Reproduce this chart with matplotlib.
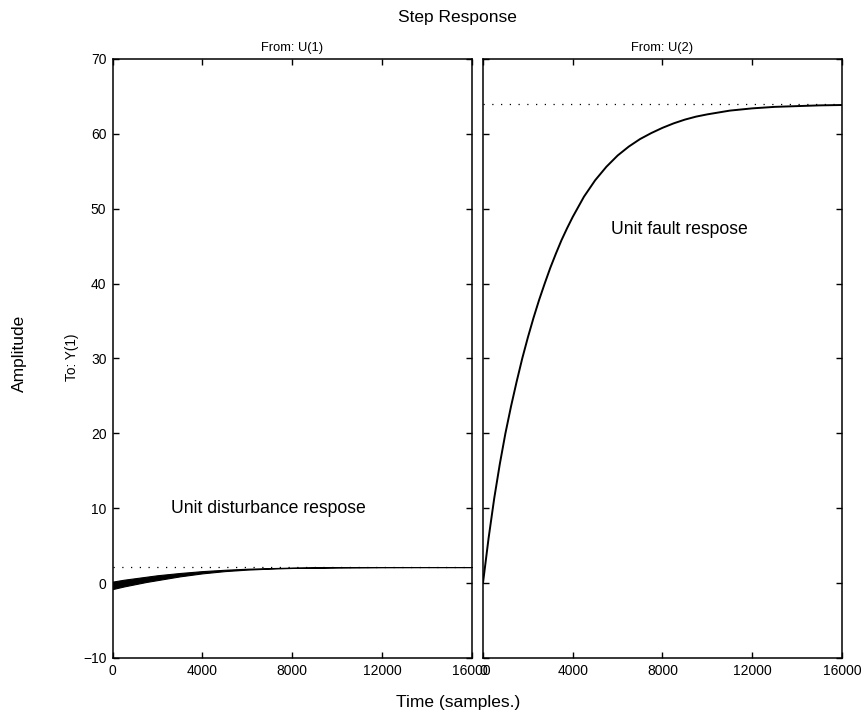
import matplotlib
matplotlib.use('Agg')
import matplotlib.pyplot as plt

plt.rcParams['font.family'] = ['Liberation Sans', 'DejaVu Sans']

# From: U(1)  -> disturbance response (thick oscillating band at the start)
t_dist = [0, 500, 1000, 1500, 2000, 2500, 3000, 4000, 5000, 6000, 7000, 8000, 10000, 12000, 14000, 16000]
dist_lower = [-0.8, -0.45, -0.15, 0.15, 0.4, 0.65, 0.9, 1.3, 1.6, 1.8, 1.93, 2.02, 2.1, 2.13, 2.14, 2.14]
dist_upper = [0.2, 0.45, 0.65, 0.85, 1.05, 1.2, 1.35, 1.6, 1.78, 1.92, 2.0, 2.07, 2.12, 2.14, 2.14, 2.14]
dist_final = 2.15

# From: U(2)  -> fault response
t_fault = [0, 250, 500, 750, 1000, 1250, 1500, 1750, 2000, 2250, 2500, 2750, 3000, 3250,
           3500, 3750, 4000, 4500, 5000, 5500, 6000, 6500, 7000, 7500, 8000, 8500, 9000,
           9500, 10000, 11000, 12000, 13000, 14000, 15000, 16000]
fault_resp = [0, 6.0, 11.3, 15.9, 20.0, 23.6, 26.9, 30.0, 32.8, 35.4, 37.8, 40.0, 42.1, 44.0,
              45.8, 47.4, 48.9, 51.6, 53.8, 55.6, 57.1, 58.3, 59.3, 60.1, 60.8, 61.4, 61.9,
              62.3, 62.6, 63.1, 63.4, 63.6, 63.7, 63.8, 63.85]
fault_final = 64.0

xticks = [0, 4000, 8000, 12000, 16000]
yticks = [-10, 0, 10, 20, 30, 40, 50, 60, 70]

fig = plt.figure(figsize=(8.64, 7.18), dpi=100)
ax1 = fig.add_axes([0.1304, 0.0836, 0.4155, 0.8343])
ax2 = fig.add_axes([0.5590, 0.0836, 0.4155, 0.8343])

dots = (0, (1, 6))

ax1.fill_between(t_dist, dist_lower, dist_upper, color='k', lw=0.8)
ax1.plot([0, 16000], [dist_final, dist_final], color='k', lw=0.9, linestyle=dots)
ax1.text(2600, 10, 'Unit disturbance respose', fontsize=12.7, ha='left', va='center')

ax2.plot(t_fault, fault_resp, color='k', lw=1.4)
ax2.plot([0, 16000], [fault_final, fault_final], color='k', lw=0.9, linestyle=dots)
ax2.text(5700, 47.2, 'Unit fault respose', fontsize=12.7, ha='left', va='center')

for ax, lab in [(ax1, 'From: U(1)'), (ax2, 'From: U(2)')]:
    ax.set_xlim(0, 16000)
    ax.set_ylim(-10, 70)
    ax.set_xticks(xticks)
    ax.set_yticks(yticks)
    ax.tick_params(direction='in', length=4.5, width=1.0, top=True, right=True,
                   labelsize=10, pad=4.5)
    for s in ax.spines.values():
        s.set_linewidth(1.1)
    ax.set_title(lab, fontsize=9.3, pad=6)

ax2.tick_params(labelleft=False)

fig.text(0.529, 0.976, 'Step Response', fontsize=12.5, ha='center', va='center')
fig.text(0.530, 0.021, 'Time (samples.)', fontsize=12.5, ha='center', va='center')
fig.text(0.023, 0.508, 'Amplitude', fontsize=12.5, rotation=90, ha='center', va='center')
fig.text(0.083, 0.503, 'To: Y(1)', fontsize=9.8, rotation=90, ha='center', va='center')

fig.savefig('out.png', dpi=100)
